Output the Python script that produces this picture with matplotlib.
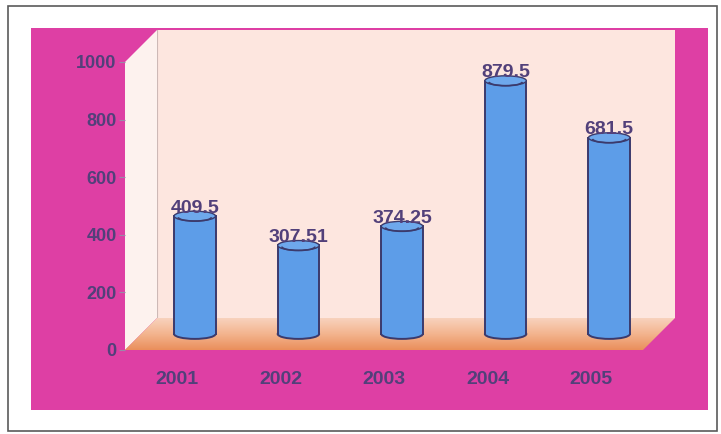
import matplotlib
matplotlib.use("Agg")
import numpy as np
import matplotlib.pyplot as plt
from matplotlib.patches import Rectangle, Polygon, Ellipse, Arc
from matplotlib.transforms import ScaledTranslation
from matplotlib.colors import LinearSegmentedColormap

years = ["2001", "2002", "2003", "2004", "2005"]
values = [409.5, 307.51, 374.25, 879.5, 681.5]
yticks = [0, 200, 400, 600, 800, 1000]

PINK = "#de3fa4"
WALL = "#fde6df"
SIDE = "#fdf2ee"
BLUE = "#5d9de8"
TOP = "#6ea8ec"
EDGE = "#3b3a6c"
TXT = "#52407a"

plt.rcParams["font.family"] = ["Liberation Sans", "DejaVu Sans"]
plt.rcParams["font.weight"] = "bold"

W, H = 721, 434
fig = plt.figure(figsize=(W / 100, H / 100), dpi=100)
fig.patch.set_facecolor("white")

# outer frame and pink panel (behind the axes)
fig.add_artist(Rectangle((8 / W, 3 / H), 709 / W, 425 / H, transform=fig.transFigure,
                         fill=False, edgecolor="#5a5a5a", linewidth=1.2, zorder=-10))
fig.add_artist(Rectangle((31 / W, 24 / H), 677 / W, 382 / H, transform=fig.transFigure,
                         facecolor=PINK, edgecolor="none", zorder=-9))

# front plane of the 3d box
ax = fig.add_axes([125 / W, 84 / H, 518 / W, 288 / H])
ax.patch.set_alpha(0)
for s in ax.spines.values():
    s.set_visible(False)

depth = 0.32  # inches
dx = depth * 100 / 518
dy = depth * 100 / 288

# walls and floor
back = Rectangle((dx, dy), 1, 1, transform=ax.transAxes, facecolor=WALL,
                 edgecolor="none", zorder=0, clip_on=False)
ax.add_patch(back)
ax.plot([dx, dx], [dy, 1 + dy], transform=ax.transAxes, color="#cdb9b6",
        lw=0.8, zorder=0.5, clip_on=False)
side = Polygon([(0, 0), (0, 1), (dx, 1 + dy), (dx, dy)], closed=True,
               transform=ax.transAxes, facecolor=SIDE, edgecolor="none",
               zorder=0.6, clip_on=False)
ax.add_patch(side)
floor = Polygon([(0, 0), (1, 0), (1 + dx, dy), (dx, dy)], closed=True,
                transform=ax.transAxes, facecolor="none", edgecolor="none",
                zorder=0.7, clip_on=False)
ax.add_patch(floor)
grad = np.linspace(0, 1, 64).reshape(-1, 1)
fcmap = LinearSegmentedColormap.from_list("floor", ["#ea8f5c", "#f3b48e", "#f8d2bd"])
img = ax.imshow(grad, cmap=fcmap, aspect="auto", origin="lower",
                extent=(0, 1 + dx, 0, dy), transform=ax.transAxes,
                zorder=0.7)
img.set_clip_box(fig.bbox)
img.set_clip_path(floor)

# cylinders sit half way into the box
mid = ax.transData + ScaledTranslation(0.18, depth / 2, fig.dpi_scale_trans)
bw = 0.40
eh = 34
x = np.arange(len(years))
bars = ax.bar(x, values, width=bw, color=BLUE, linewidth=0, zorder=3)
for i, (b, v) in enumerate(zip(bars, values)):
    b.set_transform(mid)
    ax.add_patch(Ellipse((i, 0), bw, eh, transform=mid, facecolor=BLUE,
                         edgecolor=EDGE, lw=1.4, zorder=2.9))
    ax.plot([i - bw / 2, i - bw / 2], [0, v], transform=mid, color=EDGE, lw=1.4, zorder=3.1)
    ax.plot([i + bw / 2, i + bw / 2], [0, v], transform=mid, color=EDGE, lw=1.4, zorder=3.1)
    ax.add_patch(Ellipse((i, v), bw, eh, transform=mid, facecolor=TOP,
                         edgecolor=EDGE, lw=1.0, zorder=3.2))
    ax.add_patch(Arc((i, v - 4), bw * 0.8, eh * 0.8, theta1=200, theta2=340,
                     transform=mid, color=EDGE, lw=1.2, zorder=3.3))
    lab = mid + ScaledTranslation(0, 0.08, fig.dpi_scale_trans)
    ax.text(i, v, f"{v:g}", transform=lab, ha="center", va="center",
            fontsize=14, fontweight="bold", color=TXT, zorder=4)

ax.set_xlim(-0.5, len(years) - 0.5)
ax.set_ylim(0, 1000)
ax.set_yticks(yticks)
ax.set_yticklabels([str(t) for t in yticks])
ax.set_xticks(x)
ax.set_xticklabels(years)
ax.tick_params(axis="y", length=4, width=0.8, color="#9a8aa8", pad=2,
               labelsize=13, labelcolor=TXT)
ax.tick_params(axis="x", length=0, pad=15, labelsize=14, labelcolor=TXT)

fig.savefig("out.png", dpi=100)
